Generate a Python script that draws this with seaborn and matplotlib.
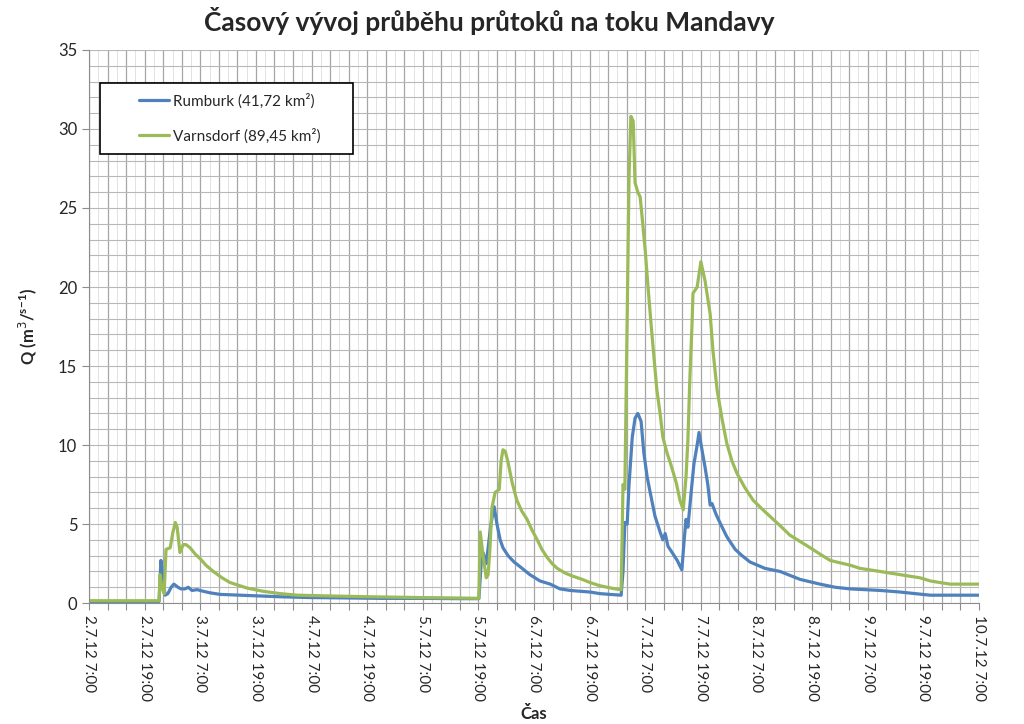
import matplotlib
matplotlib.use("Agg")
import matplotlib.pyplot as plt
from matplotlib.patches import Rectangle
import seaborn as sns
import pandas as pd
import numpy as np

# hours since 2.7.12 7:00
rum_h = [0, 15.1, 15.5, 16.0, 16.4, 17.0, 17.7, 18.3, 19.2, 19.8, 20.7, 21.4, 22.2, 23.3, 24.6, 26.1, 28.3,
         32.6, 36.9, 41.2, 47.7, 54.2, 62.8, 71.4, 80.0, 84.1, 84.6, 85.0, 85.7, 86.1, 86.7, 87.4, 88.0,
         88.7, 89.3, 90.4, 91.7, 93.0, 95.1, 97.3, 99.5, 101.6, 103.8, 105.9, 108.1, 110.2, 112.4, 114.8,
         115.2, 115.6, 116.1, 116.5, 117.2, 117.8, 118.4, 119.1, 119.7, 120.4, 121.0, 122.1, 123.2, 123.8,
         124.3, 124.9, 125.8, 126.9, 127.9, 128.4, 128.8, 129.2, 129.9, 130.5, 131.2, 131.6, 132.3, 132.9,
         133.5, 134.0, 134.4, 135.3, 136.1, 137.6, 139.4, 140.9, 142.6, 145.8, 149.1, 153.4, 157.7, 161.0,
         164.2, 170.7, 175.0, 178.2, 181.5, 185.8, 192.0]
rum_q = [0.1, 0.1, 2.7, 1.5, 0.5, 0.6, 1.0, 1.2, 1.0, 0.9, 0.9, 1.0, 0.8, 0.85, 0.75, 0.65, 0.55,
         0.5, 0.45, 0.4, 0.35, 0.33, 0.3, 0.3, 0.28, 0.28, 2.5, 3.2, 2.5, 3.5, 5.0, 6.1, 5.0,
         4.0, 3.5, 3.0, 2.6, 2.3, 1.8, 1.4, 1.2, 0.9, 0.8, 0.75, 0.7, 0.6, 0.55, 0.5,
         2.0, 5.1, 5.0, 7.5, 10.5, 11.7, 12.0, 11.5, 9.5, 8.0, 7.1, 5.5, 4.5, 4.0,
         4.4, 3.6, 3.2, 2.7, 2.1, 4.0, 5.3, 4.8, 7.0, 8.8, 10.0, 10.8, 9.6, 8.6,
         7.5, 6.2, 6.3, 5.6, 5.1, 4.2, 3.4, 3.0, 2.6, 2.2, 2.0, 1.5, 1.2, 1.0,
         0.9, 0.8, 0.7, 0.6, 0.5, 0.5, 0.5]

var_h = [0, 15.1, 15.3, 15.7, 16.2, 16.6, 17.5, 18.1, 18.6, 19.0, 19.6, 20.3, 20.9, 21.8, 22.9, 24.0,
         25.2, 26.8, 28.7, 30.4, 34.1, 37.5, 41.2, 44.9, 52.0, 60.6, 71.4, 80.0, 84.1, 84.4, 85.0, 85.7,
         86.1, 86.5, 86.9, 87.6, 88.5, 88.9, 89.3, 89.8, 90.4, 91.3, 92.3, 93.4, 94.5, 95.6, 96.7, 97.7,
         98.8, 99.9, 101.0, 102.7, 104.4, 106.4, 108.1, 110.2, 111.8, 113.5, 114.8, 115.0, 115.2, 115.6,
         116.1, 116.5, 116.9, 117.4, 117.8, 118.4, 118.9, 119.3, 120.0, 120.6, 121.3, 121.9, 122.5, 123.2,
         123.8, 124.7, 125.6, 126.7, 127.5, 128.2, 128.8, 129.2, 129.6, 130.1, 130.3, 131.2, 132.0, 132.9,
         134.0, 134.6, 135.5, 136.6, 137.6, 138.7, 139.8, 141.5, 143.3, 145.4, 147.6, 149.1, 151.2, 153.4,
         155.6, 157.7, 159.9, 162.0, 164.2, 166.3, 168.5, 170.7, 172.8, 175.0, 177.1, 179.3, 181.5, 183.6,
         185.8, 189.0, 192.0]
var_q = [0.15, 0.15, 1.8, 1.0, 0.6, 3.4, 3.5, 4.5, 5.1, 4.8, 3.2, 3.7, 3.7, 3.5, 3.1, 2.8,
         2.4, 2.0, 1.6, 1.3, 0.95, 0.75, 0.6, 0.5, 0.45, 0.4, 0.35, 0.32, 0.3, 4.5, 3.0, 1.6,
         1.8, 3.5, 6.0, 7.0, 7.2, 9.0, 9.7, 9.6, 8.9, 7.6, 6.5, 5.8, 5.3, 4.6, 4.0, 3.4,
         2.9, 2.5, 2.2, 1.9, 1.7, 1.5, 1.3, 1.1, 1.0, 0.9, 0.85, 4.0, 7.5, 7.2,
         18.0, 27.0, 30.8, 30.5, 26.6, 26.0, 25.7, 24.5, 22.3, 20.0, 17.5, 15.5, 13.5, 12.0,
         10.5, 9.5, 8.7, 7.6, 6.5, 5.9, 8.0, 10.3, 14.0, 17.7, 19.6, 20.0, 21.6, 20.4,
         18.3, 16.0, 13.5, 11.6, 10.1, 9.0, 8.2, 7.3, 6.5, 5.9, 5.3, 4.9, 4.3, 3.9,
         3.5, 3.1, 2.7, 2.55, 2.4, 2.2, 2.1, 2.0, 1.9, 1.8, 1.7, 1.6, 1.4, 1.3,
         1.2, 1.2, 1.2]

tick_labels = ["2.7.12 7:00", "2.7.12 19:00", "3.7.12 7:00", "3.7.12 19:00", "4.7.12 7:00",
               "4.7.12 19:00", "5.7.12 7:00", "5.7.12 19:00", "6.7.12 7:00", "6.7.12 19:00",
               "7.7.12 7:00", "7.7.12 19:00", "8.7.12 7:00", "8.7.12 19:00", "9.7.12 7:00",
               "9.7.12 19:00", "10.7.12 7:00"]
series_names = ["Rumburk (41,72 km²)", "Varnsdorf (89,45 km²)"]
colors = ["#4F81BD", "#9BBB59"]

df = pd.concat([
    pd.DataFrame({"h": rum_h, "Q": rum_q, "stanice": series_names[0]}),
    pd.DataFrame({"h": var_h, "Q": var_q, "stanice": series_names[1]}),
])

sns.set_style("white")
plt.rcParams['font.family'] = ['Lato', 'DejaVu Sans']

fig = plt.figure(figsize=(10.24, 7.24), dpi=100)
ax = fig.add_axes([0.087, 0.167, 0.869, 0.764])

sns.lineplot(data=df, x="h", y="Q", hue="stanice", palette=colors, linewidth=2.3,
             estimator=None, sort=False, ax=ax)

ax.set_xlim(0, 192)
ax.set_ylim(0, 35)

# x ticks every 4h, labelled every 12h
xt = list(range(0, 193, 4))
labels = []
for t in xt:
    labels.append(tick_labels[t // 12] if t % 12 == 0 else "")
ax.set_xticks(xt)
ax.set_xticklabels(labels, rotation=-90, fontsize=11)
ax.set_xticks(list(range(0, 193, 2)), minor=True)

ax.set_yticks(range(0, 36, 5))
ax.set_yticklabels([str(v) for v in range(0, 36, 5)], fontsize=12)
ax.set_yticks(np.arange(0, 35.01, 1), minor=True)

ax.grid(True, which="major", axis="x", color="#a6a6a6", linewidth=0.9)
ax.grid(True, which="minor", axis="x", color="#e2e2e2", linewidth=0.7)
ax.grid(True, which="both", axis="y", color="#b8b8b8", linewidth=0.8)
ax.set_axisbelow(True)

ax.tick_params(axis="x", which="major", direction="out", length=5, color="#8c8c8c", bottom=True)
ax.tick_params(axis="x", which="minor", length=0)
ax.tick_params(axis="y", which="major", direction="out", length=5, color="#8c8c8c", left=True)
ax.tick_params(axis="y", which="minor", length=0)

for s in ["top", "right"]:
    ax.spines[s].set_visible(False)
for s in ["left", "bottom"]:
    ax.spines[s].set_color("#8c8c8c")

ax.set_xlabel("Čas", fontsize=12, fontweight="bold")
ax.set_ylabel(r"Q (m$^{3}$/$^{\mathregular{s\!-\!1}}$)", fontsize=12, fontweight="bold", labelpad=14)

# legend frame (Excel-style box) and entries
ax.add_patch(Rectangle((0.0124, 0.812), 0.2843, 0.128, transform=ax.transAxes, facecolor="white",
                       edgecolor="black", linewidth=1.2, zorder=5))
leg = ax.legend(loc="upper left", bbox_to_anchor=(0.056, 0.922), frameon=False,
                fontsize=11, handlelength=2.0, handletextpad=0.2,
                labelspacing=1.3, borderpad=0, borderaxespad=0)
leg.set_zorder(6)

fig.suptitle("Časový vývoj průběhu průtoků na toku Mandavy", fontsize=19, fontweight="bold",
             x=0.478, y=0.99)

fig.savefig("out.png", dpi=100)
